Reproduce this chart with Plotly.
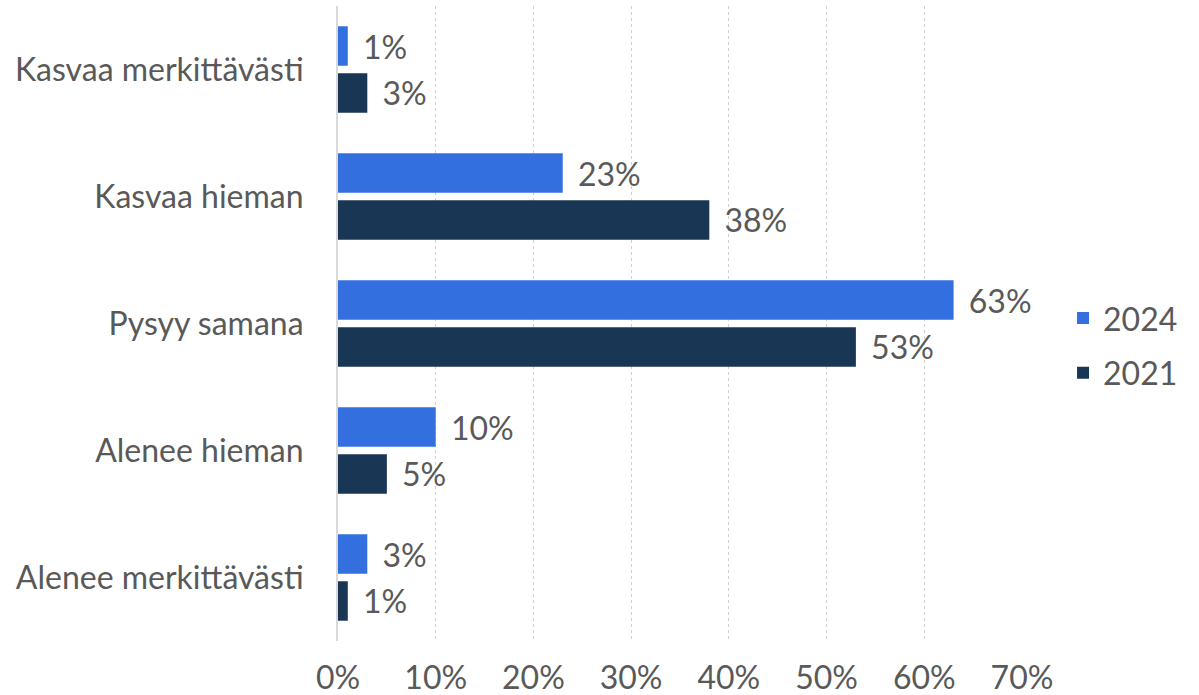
import plotly.graph_objects as go

categories = ["Kasvaa merkittävästi", "Kasvaa hieman", "Pysyy samana",
              "Alenee hieman", "Alenee merkittävästi"]
values_2024 = [1, 23, 63, 10, 3]
values_2021 = [3, 38, 53, 5, 1]
tick_values = [0, 10, 20, 30, 40, 50, 60, 70]
tick_labels = ["0%", "10%", "20%", "30%", "40%", "50%", "60%", "70%"]

FONT = "Lato, 'Open Sans', sans-serif"
TEXT_GREY = "#595959"
SIZE = 32

fig = go.Figure()
for name, vals, color in [("2024", values_2024, "#346FE0"),
                          ("2021", values_2021, "#1A3655")]:
    fig.add_trace(go.Bar(
        y=categories, x=vals, name=name, orientation="h", legendgroup=name,
        marker=dict(color=color, line=dict(width=0)),
        text=[f" \u2009{v}%" for v in vals], textposition="outside",
        textfont=dict(family=FONT, size=SIZE, color=TEXT_GREY),
        cliponaxis=False,
    ))

fig.update_layout(
    width=1199, height=695,
    margin=dict(l=338, r=177, t=6, b=54, autoexpand=False),
    paper_bgcolor="white", plot_bgcolor="white",
    barmode="group", bargap=0.26, bargroupgap=0.16,
    font=dict(family=FONT, size=SIZE, color=TEXT_GREY),
    legend=dict(x=1.06, y=0.465, xanchor="left", yanchor="middle",
                font=dict(size=SIZE, color=TEXT_GREY),
                itemwidth=30, tracegroupgap=10),
    showlegend=True,
)
fig.update_xaxes(
    range=[0, 70], tickvals=tick_values, ticktext=tick_labels,
    showgrid=True, gridcolor="#d0d0d0", griddash="dot", gridwidth=1,
    zeroline=False, showline=False, ticks="", ticklabelstandoff=15,
    automargin=False,
)
fig.update_yaxes(
    autorange="reversed", showline=True, linecolor="#d9d9d9", linewidth=2,
    ticks="", ticklabelstandoff=26, showgrid=False, automargin=False,
)

fig.write_html("out.html")
